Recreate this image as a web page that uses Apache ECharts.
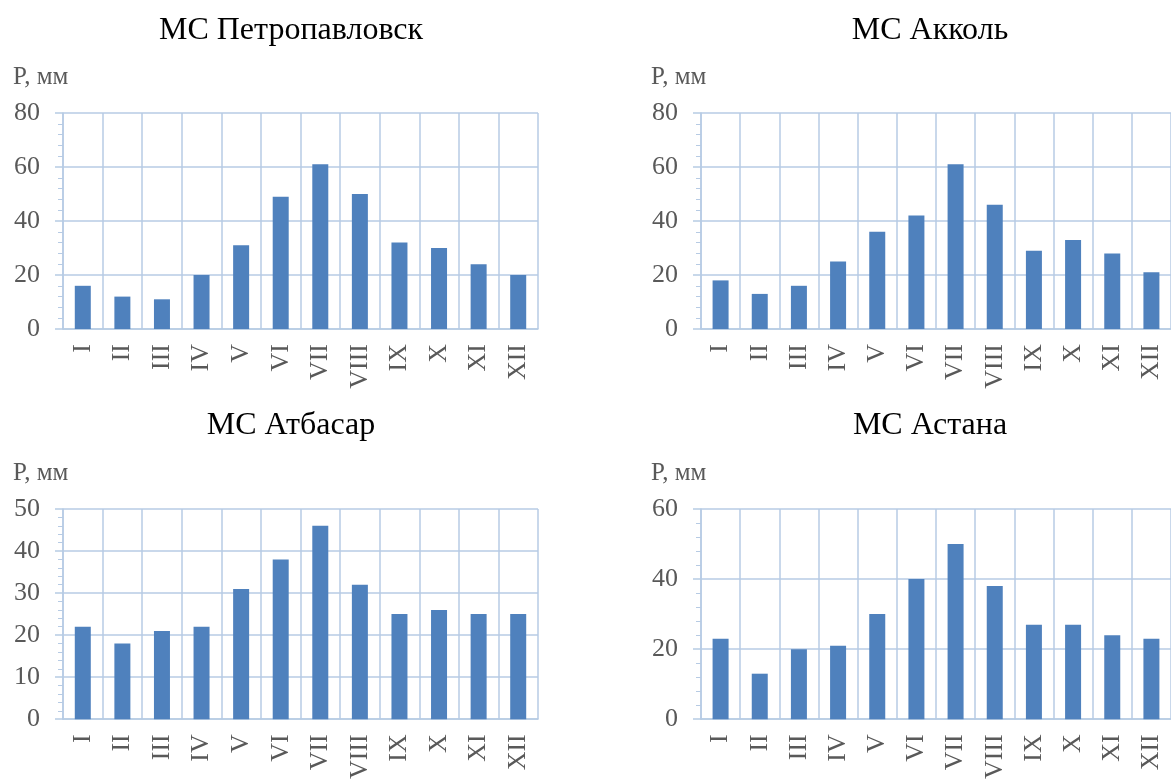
<!DOCTYPE html>
<html>
<head>
<meta charset="UTF-8">
<title>Осадки по месяцам</title>
<script type="text/javascript" src="https://cdn.jsdelivr.net/npm/echarts@6/dist/echarts.min.js"></script>
<style>
html,body{margin:0;padding:0;background:#fff;}
</style>
</head>
<body>
<div id="mychar" style="width:1171px;height:782px;"></div>

<script type="text/javascript">

// месяцы
var months=['I','II','III','IV','V','VI','VII','VIII','IX','X','XI','XII'];

// осадки, мм
var petropavlovsk=[16,12,11,20,31,49,61,50,32,30,24,20];
var akkol=[18,13,16,25,36,42,61,46,29,33,28,21];
var atbasar=[22,18,21,22,31,38,46,32,25,26,25,25];
var astana=[23,13,20,21,30,40,50,38,27,27,24,23];

var stations=['МС Петропавловск','МС Акколь','МС Атбасар','МС Астана'];
var yMax=[80,80,50,60];
var yStep=[20,20,10,20];

var font='"Liberation Serif","Times New Roman",serif';
var lineColor='#B7CBE4';
var barColor='#4F81BD';

var grids=[
  {left:63,top:113,width:475,height:216},
  {left:701,top:113,width:474,height:216},
  {left:63,top:509,width:475,height:215},
  {left:701,top:509,width:474,height:215}
];
var titlePos=[[291,15],[930,15],[291,410],[930,410]];
var values=[petropavlovsk,akkol,atbasar,astana];

var mychart=echarts.init(document.getElementById('mychar'));

var titles=[],xAxes=[],yAxes=[],series=[],texts=[];
for(var i=0;i<4;i++){
  titles.push({
    text:stations[i],
    left:titlePos[i][0],
    top:titlePos[i][1],
    textAlign:'center',
    padding:0,
    textStyle:{fontFamily:font,fontSize:32,fontWeight:'normal',color:'#000'}
  });
  xAxes.push({
    type:'category',
    gridIndex:i,
    data:months,
    axisLine:{lineStyle:{color:lineColor,width:1.5}},
    axisTick:{show:false},
    splitLine:{show:true,lineStyle:{color:lineColor,width:1.5}},
    axisLabel:{rotate:90,interval:0,margin:15,fontFamily:font,fontSize:26,color:'#595959'}
  });
  yAxes.push({
    type:'value',
    gridIndex:i,
    min:0,
    max:yMax[i],
    interval:yStep[i],
    axisLine:{show:true,lineStyle:{color:lineColor,width:1.5}},
    axisTick:{show:true,length:8,lineStyle:{color:lineColor,width:1.5}},
    minorTick:{show:true,splitNumber:5,length:5,lineStyle:{color:lineColor,width:1}},
    splitLine:{show:true,lineStyle:{color:lineColor,width:1.5}},
    axisLabel:{margin:23,fontFamily:font,fontSize:26,color:'#595959'}
  });
  series.push({
    type:'bar',
    xAxisIndex:i,
    yAxisIndex:i,
    data:values[i],
    barWidth:16,
    itemStyle:{color:barColor},
    animation:false
  });
  texts.push({
    type:'text',
    left:grids[i].left-50,
    top:grids[i].top-48,
    style:{text:'P, мм',font:'25px '+font,fill:'#595959'}
  });
}

var option={
  animation:false,
  title:titles,
  grid:grids,
  xAxis:xAxes,
  yAxis:yAxes,
  series:series,
  graphic:texts
};

mychart.setOption(option);
</script>
</body>
</html>
